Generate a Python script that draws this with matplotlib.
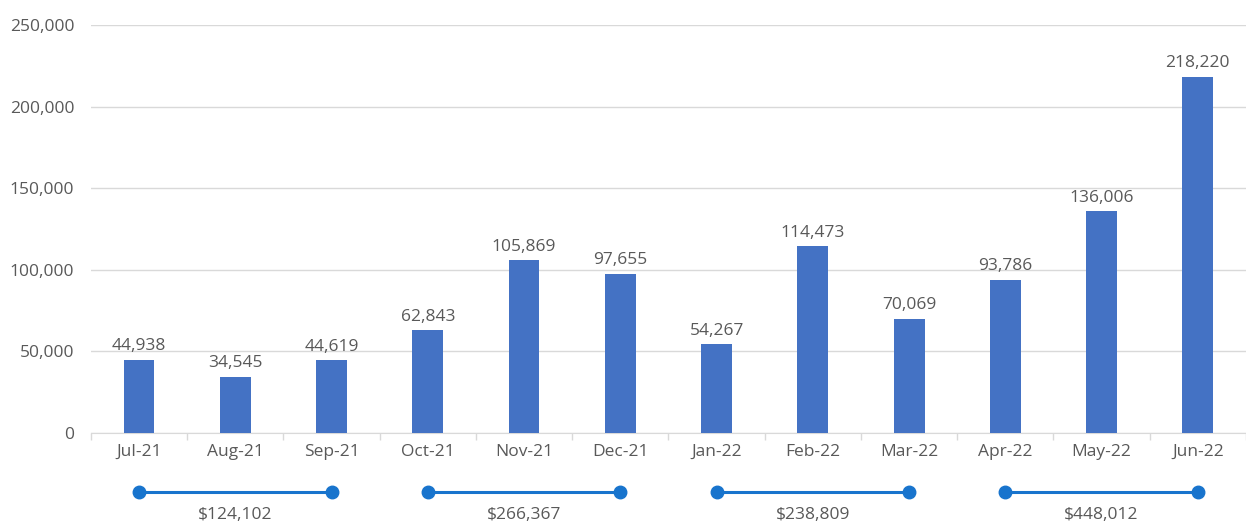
import matplotlib
matplotlib.use("Agg")
import matplotlib.pyplot as plt
import matplotlib.transforms as mtransforms
from matplotlib.ticker import FuncFormatter, FixedLocator

months = ["Jul-21", "Aug-21", "Sep-21", "Oct-21", "Nov-21", "Dec-21",
          "Jan-22", "Feb-22", "Mar-22", "Apr-22", "May-22", "Jun-22"]
values = [44938, 34545, 44619, 62843, 105869, 97655,
          54267, 114473, 70069, 93786, 136006, 218220]
quarter_labels = ["$124,102", "$266,367", "$238,809", "$448,012"]

BAR = "#4472C4"
DOT = "#1874CD"
GREY = "#595959"
GRID = "#D9D9D9"
FS = 12.5

plt.rcParams["font.family"] = ["Open Sans", "DejaVu Sans"]

fig = plt.figure(figsize=(12.46, 5.22), dpi=100)
ax = fig.add_axes([0.073, 0.1705, 0.927, 0.7815])

x = list(range(len(months)))
ax.bar(x, values, width=0.32, color=BAR, zorder=3)
for xi, v in zip(x, values):
    ax.annotate(f"{v:,}", (xi, v), xytext=(0, 4), textcoords="offset points",
                ha="center", va="bottom", fontsize=FS, color=GREY)

ax.set_xlim(-0.5, 11.5)
ax.set_ylim(0, 250000)
ax.set_yticks(range(0, 250001, 50000))
ax.yaxis.set_major_formatter(FuncFormatter(lambda v, p: f"{int(v):,}"))
ax.grid(axis="y", color=GRID, linewidth=1, zorder=0)
ax.set_xticks(x)
ax.set_xticklabels(months)
ax.xaxis.set_minor_locator(FixedLocator([i - 0.5 for i in range(13)]))
ax.tick_params(axis="x", which="major", length=0, pad=8, labelsize=FS, labelcolor=GREY)
ax.tick_params(axis="x", which="minor", length=5, color=GRID, width=1)
ax.tick_params(axis="y", length=0, pad=12, labelsize=FS, labelcolor=GREY)
for s in ["top", "right", "left"]:
    ax.spines[s].set_visible(False)
ax.spines["bottom"].set_color(GRID)

# quarter dumbbells below the axis
trans = mtransforms.blended_transform_factory(ax.transData, ax.transAxes)
for q, lab in enumerate(quarter_labels):
    a, b = 3 * q, 3 * q + 2
    ax.plot([a, b], [-0.145, -0.145], color=DOT, linewidth=2.2, marker="o",
            markersize=9, transform=trans, clip_on=False)
    ax.text((a + b) / 2, -0.2, lab, transform=trans, ha="center", va="center",
            fontsize=FS, color=GREY)

fig.savefig("out.png", dpi=100)
